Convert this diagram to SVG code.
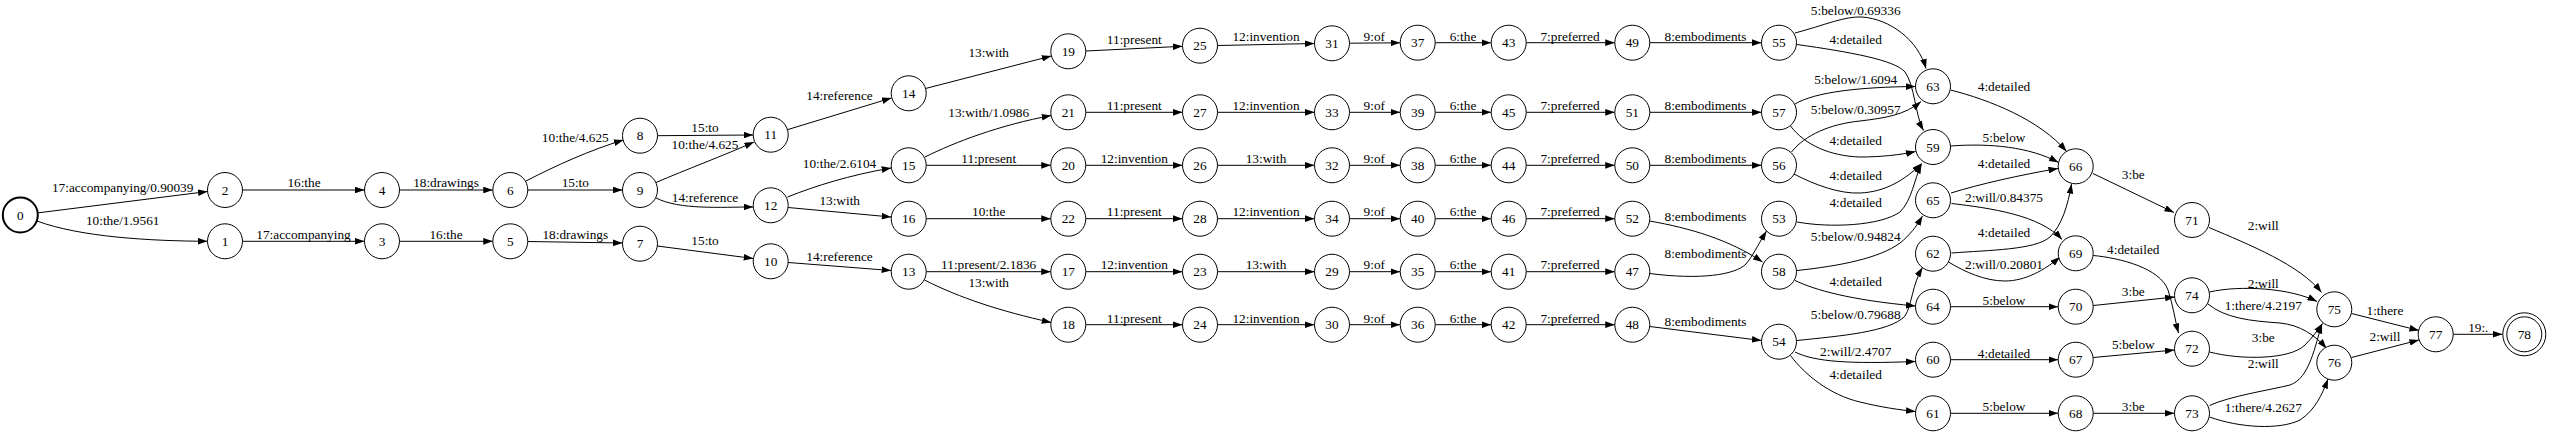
<svg xmlns="http://www.w3.org/2000/svg" width="2550" height="435" viewBox="0 0 2550 435">
<style>
text{font-family:"Liberation Serif","Times New Roman",serif;font-size:13.3px;text-anchor:middle;fill:#000}
.n circle{fill:#fff;stroke:#000;stroke-width:1}
#n0 circle{stroke-width:2}
.e path{fill:none;stroke:#000;stroke-width:1;marker-end:url(#ah)}
</style>
<defs>
<marker id="ah" viewBox="0 0 10 7" refX="10" refY="3.5" markerWidth="9.6" markerHeight="6.7" markerUnits="userSpaceOnUse" orient="auto">
<polygon points="0,0 10,3.5 0,7" fill="#000"/>
</marker>
</defs>
<rect width="2550" height="435" fill="#fff"/>
<g id="edges">
<g class="e"><path d="M37.7,212.9 L207.6,191.5"/><text x="122.7" y="191.5">17:accompanying/0.90039</text></g>
<g class="e"><path d="M37,221 C80,237 150,241 207.5,241.3"/><text x="122.7" y="224.5">10:the/1.9561</text></g>
<g class="e"><path d="M242.5,190 L364.5,190"/><text x="304" y="187">16:the</text></g>
<g class="e"><path d="M242.5,241.3 L364.5,241.3"/><text x="303.5" y="238.5">17:accompanying</text></g>
<g class="e"><path d="M399.5,190 L492.8,190"/><text x="446" y="187">18:drawings</text></g>
<g class="e"><path d="M399.5,241.3 L492.8,241.3"/><text x="446" y="238.5">16:the</text></g>
<g class="e"><path d="M526,181 C555,166 590,150 623.5,140"/><text x="575.3" y="142">10:the/4.625</text></g>
<g class="e"><path d="M527.8,190 L622.5,190"/><text x="575.3" y="187">15:to</text></g>
<g class="e"><path d="M527.8,241.5 L622.5,243"/><text x="575.3" y="238.5">18:drawings</text></g>
<g class="e"><path d="M657.5,135.7 L753.2,135"/><text x="705" y="132">15:to</text></g>
<g class="e"><path d="M656,182.5 C685,170 725,155 754,142"/><text x="705" y="148.5">10:the/4.625</text></g>
<g class="e"><path d="M656,198 C680,210 720,207 753.2,207"/><text x="705" y="202">14:reference</text></g>
<g class="e"><path d="M657.3,246 L753.3,258.5"/><text x="705" y="244.5">15:to</text></g>
<g class="e"><path d="M788,129.5 L891.5,98"/><text x="839.5" y="99.5">14:reference</text></g>
<g class="e"><path d="M787.5,197 C815,186 850,175 891.2,168"/><text x="839.5" y="168">10:the/2.6104</text></g>
<g class="e"><path d="M788.2,207.5 L891.2,217"/><text x="839.7" y="205">13:with</text></g>
<g class="e"><path d="M788.2,262.5 L891.2,270.5"/><text x="839.5" y="260.5">14:reference</text></g>
<g class="e"><path d="M925.5,88.5 L1051.3,56"/><text x="988.7" y="57">13:with</text></g>
<g class="e"><path d="M925,157 C955,142 1000,125 1051.3,115.5"/><text x="988.7" y="116.5">13:with/1.0986</text></g>
<g class="e"><path d="M926.2,165.3 L1050.8,165.3"/><text x="988.7" y="163">11:present</text></g>
<g class="e"><path d="M926.2,218.7 L1050.8,218.7"/><text x="988.7" y="215.5">10:the</text></g>
<g class="e"><path d="M926.2,271.7 L1050.8,271.7"/><text x="988.7" y="269">11:present/2.1836</text></g>
<g class="e"><path d="M924.5,280 C960,298 1000,311 1051.3,322.5"/><text x="988.7" y="287">13:with</text></g>
<g class="e"><path d="M1085.8,51 L1182.5,46.3"/><text x="1134.3" y="44">11:present</text></g>
<g class="e"><path d="M1085.8,112.3 L1182.5,112.3"/><text x="1134.3" y="110">11:present</text></g>
<g class="e"><path d="M1085.8,165.3 L1182.5,165.3"/><text x="1134.3" y="163">12:invention</text></g>
<g class="e"><path d="M1085.8,218.7 L1182.5,218.7"/><text x="1134.3" y="215.5">11:present</text></g>
<g class="e"><path d="M1085.8,271.7 L1182.5,271.7"/><text x="1134.3" y="269">12:invention</text></g>
<g class="e"><path d="M1085.8,324.7 L1182.5,324.7"/><text x="1134.3" y="323">11:present</text></g>
<g class="e"><path d="M1217.5,45.5 L1314.5,43.5"/><text x="1266" y="40.5">12:invention</text></g>
<g class="e"><path d="M1217.5,112.3 L1314.5,112.3"/><text x="1266" y="110">12:invention</text></g>
<g class="e"><path d="M1217.5,165.3 L1314.5,165.3"/><text x="1266" y="163">13:with</text></g>
<g class="e"><path d="M1217.5,218.7 L1314.5,218.7"/><text x="1266" y="215.5">12:invention</text></g>
<g class="e"><path d="M1217.5,271.7 L1314.5,271.7"/><text x="1266" y="269">13:with</text></g>
<g class="e"><path d="M1217.5,324.7 L1314.5,324.7"/><text x="1266" y="323">12:invention</text></g>
<g class="e"><path d="M1349.5,43.2 L1400.2,42.8"/><text x="1374.3" y="40.5">9:of</text></g>
<g class="e"><path d="M1349.5,112.3 L1400.2,112.3"/><text x="1374.3" y="110">9:of</text></g>
<g class="e"><path d="M1349.5,165.3 L1400.2,165.3"/><text x="1374.3" y="163">9:of</text></g>
<g class="e"><path d="M1349.5,218.7 L1400.2,218.7"/><text x="1374.3" y="215.5">9:of</text></g>
<g class="e"><path d="M1349.5,271.7 L1400.2,271.7"/><text x="1374.3" y="269">9:of</text></g>
<g class="e"><path d="M1349.5,324.7 L1400.2,324.7"/><text x="1374.3" y="323">9:of</text></g>
<g class="e"><path d="M1435.2,42.7 L1491.2,42.7"/><text x="1463" y="40.5">6:the</text></g>
<g class="e"><path d="M1435.2,112.3 L1491.2,112.3"/><text x="1463" y="110">6:the</text></g>
<g class="e"><path d="M1435.2,165.3 L1491.2,165.3"/><text x="1463" y="163">6:the</text></g>
<g class="e"><path d="M1435.2,218.7 L1491.2,218.7"/><text x="1463" y="215.5">6:the</text></g>
<g class="e"><path d="M1435.2,271.7 L1491.2,271.7"/><text x="1463" y="269">6:the</text></g>
<g class="e"><path d="M1435.2,324.7 L1491.2,324.7"/><text x="1463" y="323">6:the</text></g>
<g class="e"><path d="M1526.2,42.7 L1614.8,42.7"/><text x="1570" y="40.5">7:preferred</text></g>
<g class="e"><path d="M1526.2,112.3 L1614.8,112.3"/><text x="1570" y="110">7:preferred</text></g>
<g class="e"><path d="M1526.2,165.3 L1614.8,165.3"/><text x="1570" y="163">7:preferred</text></g>
<g class="e"><path d="M1526.2,218.7 L1614.8,218.7"/><text x="1570" y="215.5">7:preferred</text></g>
<g class="e"><path d="M1526.2,271.7 L1614.8,271.7"/><text x="1570" y="269">7:preferred</text></g>
<g class="e"><path d="M1526.2,324.7 L1614.8,324.7"/><text x="1570" y="323">7:preferred</text></g>
<g class="e"><path d="M1649.8,42.7 L1761.5,42.7"/><text x="1705.5" y="40.5">8:embodiments</text></g>
<g class="e"><path d="M1649.8,112.3 L1761.5,112.3"/><text x="1705.5" y="110">8:embodiments</text></g>
<g class="e"><path d="M1649.8,165.3 L1761.5,165.3"/><text x="1705.5" y="163">8:embodiments</text></g>
<g class="e"><path d="M1649.5,221 C1690,228 1730,240 1762.5,262"/><text x="1705.5" y="220.5">8:embodiments</text></g>
<g class="e"><path d="M1649.8,273.5 C1700,280 1735,275 1746,264 C1752,257 1758,245 1766.5,231"/><text x="1705.5" y="258">8:embodiments</text></g>
<g class="e"><path d="M1649.7,326.5 L1761.5,340.5"/><text x="1705.5" y="325.5">8:embodiments</text></g>
<g class="e"><path d="M1795,33 C1825,25 1845,16 1862,17 C1890,19 1918,40 1926,68.5"/><text x="1855.7" y="15">5:below/0.69336</text></g>
<g class="e"><path d="M1797,44.5 C1850,52 1895,60 1905,72 C1915,86 1915,115 1923.5,130.5"/><text x="1855.7" y="43.5">4:detailed</text></g>
<g class="e"><path d="M1795,104 C1815,92 1860,87 1915.5,86.5"/><text x="1855.7" y="84">5:below/1.6094</text></g>
<g class="e"><path d="M1791.5,152 C1805,135 1830,124 1860,121 C1885,118 1905,115 1921,101.5"/><text x="1855.7" y="113.5">5:below/0.30957</text></g>
<g class="e"><path d="M1790.5,126 C1805,145 1830,156 1860,157 C1880,157 1900,155 1915.5,151.5"/><text x="1855.7" y="145">4:detailed</text></g>
<g class="e"><path d="M1794,174 C1815,185 1840,194 1860,193 C1885,192 1905,180 1921.5,163.5"/><text x="1855.7" y="180">4:detailed</text></g>
<g class="e"><path d="M1797,222 C1830,228 1880,226 1900,212 C1912,200 1914,180 1921.5,164"/><text x="1855.7" y="206.5">4:detailed</text></g>
<g class="e"><path d="M1797,270.5 C1840,266 1880,258 1900,243 C1910,235 1916,227 1922.5,216"/><text x="1855.7" y="241">5:below/0.94824</text></g>
<g class="e"><path d="M1795,280.5 C1815,290 1850,300 1915.5,306"/><text x="1855.7" y="286">4:detailed</text></g>
<g class="e"><path d="M1797,340.5 C1840,336 1890,332 1905,316 C1912,305 1912,285 1922.5,267.5"/><text x="1855.7" y="318.5">5:below/0.79688</text></g>
<g class="e"><path d="M1795,352 C1815,362 1850,364 1915.5,361.5"/><text x="1855.7" y="356">2:will/2.4707</text></g>
<g class="e"><path d="M1790.5,355.5 C1805,375 1830,395 1860,402 C1880,407 1900,410 1915.5,411.5"/><text x="1855.7" y="379">4:detailed</text></g>
<g class="e"><path d="M1950.5,90 C1990,100 2040,120 2066.5,151.5"/><text x="2004" y="91">4:detailed</text></g>
<g class="e"><path d="M1950.5,146 C1990,143 2030,147 2058.5,162.5"/><text x="2004" y="142">5:below</text></g>
<g class="e"><path d="M1951,193 C1980,184 2020,175 2058,168.5"/><text x="2004" y="168">4:detailed</text></g>
<g class="e"><path d="M1951.5,203.5 C1990,208 2040,215 2062,239.5"/><text x="2004" y="202">2:will/0.84375</text></g>
<g class="e"><path d="M1951.5,253 C1990,250 2035,250 2050,237 C2062,225 2068,205 2071.5,184"/><text x="2004" y="236.5">4:detailed</text></g>
<g class="e"><path d="M1948.5,262 C1965,272 1985,281 2005,281 C2025,281 2045,270 2060,257"/><text x="2004" y="268.5">2:will/0.20801</text></g>
<g class="e"><path d="M1950.5,306.7 L2058.2,306.7"/><text x="2004" y="304.5">5:below</text></g>
<g class="e"><path d="M1950.5,359.7 L2058.2,359.7"/><text x="2004" y="357.5">4:detailed</text></g>
<g class="e"><path d="M1950.5,413.3 L2058.2,413.3"/><text x="2004" y="410.5">5:below</text></g>
<g class="e"><path d="M2093,173.5 L2174,212.5"/><text x="2133.3" y="179">3:be</text></g>
<g class="e"><path d="M2093.3,255.5 C2120,258 2160,268 2168,290 C2173,305 2175,320 2178.5,333"/><text x="2133.3" y="254">4:detailed</text></g>
<g class="e"><path d="M2093.3,305.5 L2174.7,297"/><text x="2133.3" y="296">3:be</text></g>
<g class="e"><path d="M2093.3,357.5 L2174.5,350"/><text x="2133.3" y="349">5:below</text></g>
<g class="e"><path d="M2093.2,413.3 L2174.5,413.3"/><text x="2133.3" y="411">3:be</text></g>
<g class="e"><path d="M2209,227.5 C2250,245 2300,265 2321.5,292.5"/><text x="2263.3" y="230">2:will</text></g>
<g class="e"><path d="M2209.5,292 C2240,285 2290,288 2317,301.5"/><text x="2263.3" y="288">2:will</text></g>
<g class="e"><path d="M2208,304 C2225,318 2250,321 2280,323 C2300,325 2315,335 2326.5,348.5"/><text x="2263.3" y="310">1:there/4.2197</text></g>
<g class="e"><path d="M2209.5,352 C2240,360 2290,360 2305,345 C2312,338 2318,330 2322.5,323.5"/><text x="2263.3" y="342">3:be</text></g>
<g class="e"><path d="M2209.5,405.5 C2230,396 2270,390 2290,385 C2310,378 2315,345 2322,324"/><text x="2263.3" y="367.5">2:will</text></g>
<g class="e"><path d="M2209.5,417 C2240,428 2280,430 2300,420 C2315,410 2322,395 2328,379"/><text x="2263.3" y="411.5">1:there/4.2627</text></g>
<g class="e"><path d="M2351.5,313.5 L2419,330.5"/><text x="2385" y="315">1:there</text></g>
<g class="e"><path d="M2351.5,357.5 L2419,340"/><text x="2385" y="341">2:will</text></g>
<g class="e"><path d="M2453.2,334.3 L2502.5,334.3"/><text x="2478.3" y="332">19:.</text></g>
</g>
<g id="n0" class="n"><circle cx="20.3" cy="215" r="17.5"/><text x="20.3" y="219.5">0</text></g>
<g id="n1" class="n"><circle cx="225" cy="241.3" r="17.5"/><text x="225" y="245.8">1</text></g>
<g id="n2" class="n"><circle cx="225" cy="190" r="17.5"/><text x="225" y="194.5">2</text></g>
<g id="n3" class="n"><circle cx="382" cy="241.3" r="17.5"/><text x="382" y="245.8">3</text></g>
<g id="n4" class="n"><circle cx="382" cy="190" r="17.5"/><text x="382" y="194.5">4</text></g>
<g id="n5" class="n"><circle cx="510.3" cy="241.3" r="17.5"/><text x="510.3" y="245.8">5</text></g>
<g id="n6" class="n"><circle cx="510.3" cy="190" r="17.5"/><text x="510.3" y="194.5">6</text></g>
<g id="n7" class="n"><circle cx="640" cy="243.7" r="17.5"/><text x="640" y="248.2">7</text></g>
<g id="n8" class="n"><circle cx="640" cy="135.7" r="17.5"/><text x="640" y="140.2">8</text></g>
<g id="n9" class="n"><circle cx="640" cy="190" r="17.5"/><text x="640" y="194.5">9</text></g>
<g id="n10" class="n"><circle cx="770.7" cy="261.3" r="17.5"/><text x="770.7" y="265.8">10</text></g>
<g id="n11" class="n"><circle cx="770.7" cy="134.7" r="17.5"/><text x="770.7" y="139.2">11</text></g>
<g id="n12" class="n"><circle cx="770.7" cy="205.3" r="17.5"/><text x="770.7" y="209.8">12</text></g>
<g id="n13" class="n"><circle cx="908.7" cy="271.7" r="17.5"/><text x="908.7" y="276.2">13</text></g>
<g id="n14" class="n"><circle cx="908.7" cy="93.3" r="17.5"/><text x="908.7" y="97.8">14</text></g>
<g id="n15" class="n"><circle cx="908.7" cy="165.3" r="17.5"/><text x="908.7" y="169.8">15</text></g>
<g id="n16" class="n"><circle cx="908.7" cy="218.7" r="17.5"/><text x="908.7" y="223.2">16</text></g>
<g id="n17" class="n"><circle cx="1068.3" cy="271.7" r="17.5"/><text x="1068.3" y="276.2">17</text></g>
<g id="n18" class="n"><circle cx="1068.3" cy="324.7" r="17.5"/><text x="1068.3" y="329.2">18</text></g>
<g id="n19" class="n"><circle cx="1068.3" cy="51.3" r="17.5"/><text x="1068.3" y="55.8">19</text></g>
<g id="n20" class="n"><circle cx="1068.3" cy="165.3" r="17.5"/><text x="1068.3" y="169.8">20</text></g>
<g id="n21" class="n"><circle cx="1068.3" cy="112.3" r="17.5"/><text x="1068.3" y="116.8">21</text></g>
<g id="n22" class="n"><circle cx="1068.3" cy="218.7" r="17.5"/><text x="1068.3" y="223.2">22</text></g>
<g id="n23" class="n"><circle cx="1200" cy="271.7" r="17.5"/><text x="1200" y="276.2">23</text></g>
<g id="n24" class="n"><circle cx="1200" cy="324.7" r="17.5"/><text x="1200" y="329.2">24</text></g>
<g id="n25" class="n"><circle cx="1200" cy="45.7" r="17.5"/><text x="1200" y="50.2">25</text></g>
<g id="n26" class="n"><circle cx="1200" cy="165.3" r="17.5"/><text x="1200" y="169.8">26</text></g>
<g id="n27" class="n"><circle cx="1200" cy="112.3" r="17.5"/><text x="1200" y="116.8">27</text></g>
<g id="n28" class="n"><circle cx="1200" cy="218.7" r="17.5"/><text x="1200" y="223.2">28</text></g>
<g id="n29" class="n"><circle cx="1332" cy="271.7" r="17.5"/><text x="1332" y="276.2">29</text></g>
<g id="n30" class="n"><circle cx="1332" cy="324.7" r="17.5"/><text x="1332" y="329.2">30</text></g>
<g id="n31" class="n"><circle cx="1332" cy="43.3" r="17.5"/><text x="1332" y="47.8">31</text></g>
<g id="n32" class="n"><circle cx="1332" cy="165.3" r="17.5"/><text x="1332" y="169.8">32</text></g>
<g id="n33" class="n"><circle cx="1332" cy="112.3" r="17.5"/><text x="1332" y="116.8">33</text></g>
<g id="n34" class="n"><circle cx="1332" cy="218.7" r="17.5"/><text x="1332" y="223.2">34</text></g>
<g id="n35" class="n"><circle cx="1417.7" cy="271.7" r="17.5"/><text x="1417.7" y="276.2">35</text></g>
<g id="n36" class="n"><circle cx="1417.7" cy="324.7" r="17.5"/><text x="1417.7" y="329.2">36</text></g>
<g id="n37" class="n"><circle cx="1417.7" cy="42.7" r="17.5"/><text x="1417.7" y="47.2">37</text></g>
<g id="n38" class="n"><circle cx="1417.7" cy="165.3" r="17.5"/><text x="1417.7" y="169.8">38</text></g>
<g id="n39" class="n"><circle cx="1417.7" cy="112.3" r="17.5"/><text x="1417.7" y="116.8">39</text></g>
<g id="n40" class="n"><circle cx="1417.7" cy="218.7" r="17.5"/><text x="1417.7" y="223.2">40</text></g>
<g id="n41" class="n"><circle cx="1508.7" cy="271.7" r="17.5"/><text x="1508.7" y="276.2">41</text></g>
<g id="n42" class="n"><circle cx="1508.7" cy="324.7" r="17.5"/><text x="1508.7" y="329.2">42</text></g>
<g id="n43" class="n"><circle cx="1508.7" cy="42.7" r="17.5"/><text x="1508.7" y="47.2">43</text></g>
<g id="n44" class="n"><circle cx="1508.7" cy="165.3" r="17.5"/><text x="1508.7" y="169.8">44</text></g>
<g id="n45" class="n"><circle cx="1508.7" cy="112.3" r="17.5"/><text x="1508.7" y="116.8">45</text></g>
<g id="n46" class="n"><circle cx="1508.7" cy="218.7" r="17.5"/><text x="1508.7" y="223.2">46</text></g>
<g id="n47" class="n"><circle cx="1632.3" cy="271.7" r="17.5"/><text x="1632.3" y="276.2">47</text></g>
<g id="n48" class="n"><circle cx="1632.3" cy="324.7" r="17.5"/><text x="1632.3" y="329.2">48</text></g>
<g id="n49" class="n"><circle cx="1632.3" cy="42.7" r="17.5"/><text x="1632.3" y="47.2">49</text></g>
<g id="n50" class="n"><circle cx="1632.3" cy="165.3" r="17.5"/><text x="1632.3" y="169.8">50</text></g>
<g id="n51" class="n"><circle cx="1632.3" cy="112.3" r="17.5"/><text x="1632.3" y="116.8">51</text></g>
<g id="n52" class="n"><circle cx="1632.3" cy="218.7" r="17.5"/><text x="1632.3" y="223.2">52</text></g>
<g id="n53" class="n"><circle cx="1779" cy="218.7" r="17.5"/><text x="1779" y="223.2">53</text></g>
<g id="n54" class="n"><circle cx="1779" cy="341.7" r="17.5"/><text x="1779" y="346.2">54</text></g>
<g id="n55" class="n"><circle cx="1779" cy="42.7" r="17.5"/><text x="1779" y="47.2">55</text></g>
<g id="n56" class="n"><circle cx="1779" cy="165.3" r="17.5"/><text x="1779" y="169.8">56</text></g>
<g id="n57" class="n"><circle cx="1779" cy="112.3" r="17.5"/><text x="1779" y="116.8">57</text></g>
<g id="n58" class="n"><circle cx="1779" cy="271.7" r="17.5"/><text x="1779" y="276.2">58</text></g>
<g id="n59" class="n"><circle cx="1933" cy="147" r="17.5"/><text x="1933" y="151.5">59</text></g>
<g id="n60" class="n"><circle cx="1933" cy="359.7" r="17.5"/><text x="1933" y="364.2">60</text></g>
<g id="n61" class="n"><circle cx="1933" cy="413.3" r="17.5"/><text x="1933" y="417.8">61</text></g>
<g id="n62" class="n"><circle cx="1933" cy="253.7" r="17.5"/><text x="1933" y="258.2">62</text></g>
<g id="n63" class="n"><circle cx="1933" cy="86.3" r="17.5"/><text x="1933" y="90.8">63</text></g>
<g id="n64" class="n"><circle cx="1933" cy="306.7" r="17.5"/><text x="1933" y="311.2">64</text></g>
<g id="n65" class="n"><circle cx="1933" cy="200.3" r="17.5"/><text x="1933" y="204.8">65</text></g>
<g id="n66" class="n"><circle cx="2075.7" cy="166.3" r="17.5"/><text x="2075.7" y="170.8">66</text></g>
<g id="n67" class="n"><circle cx="2075.7" cy="359.7" r="17.5"/><text x="2075.7" y="364.2">67</text></g>
<g id="n68" class="n"><circle cx="2075.7" cy="413.3" r="17.5"/><text x="2075.7" y="417.8">68</text></g>
<g id="n69" class="n"><circle cx="2075.7" cy="253.3" r="17.5"/><text x="2075.7" y="257.8">69</text></g>
<g id="n70" class="n"><circle cx="2075.7" cy="306.7" r="17.5"/><text x="2075.7" y="311.2">70</text></g>
<g id="n71" class="n"><circle cx="2192" cy="220" r="17.5"/><text x="2192" y="224.5">71</text></g>
<g id="n72" class="n"><circle cx="2192" cy="348.7" r="17.5"/><text x="2192" y="353.2">72</text></g>
<g id="n73" class="n"><circle cx="2192" cy="413.3" r="17.5"/><text x="2192" y="417.8">73</text></g>
<g id="n74" class="n"><circle cx="2192" cy="295.3" r="17.5"/><text x="2192" y="299.8">74</text></g>
<g id="n75" class="n"><circle cx="2334.3" cy="309.3" r="17.5"/><text x="2334.3" y="313.8">75</text></g>
<g id="n76" class="n"><circle cx="2334.3" cy="362.7" r="17.5"/><text x="2334.3" y="367.2">76</text></g>
<g id="n77" class="n"><circle cx="2435.7" cy="334.3" r="17.5"/><text x="2435.7" y="338.8">77</text></g>
<g id="n78" class="n"><circle cx="2524.3" cy="334.3" r="21.5"/><circle cx="2524.3" cy="334.3" r="17.5"/><text x="2524.3" y="338.8">78</text></g>
</svg>
